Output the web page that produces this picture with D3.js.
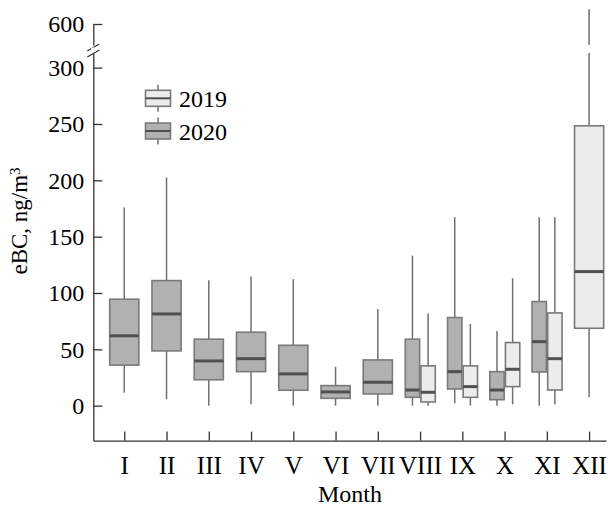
<!DOCTYPE html>
<meta charset="utf-8">
<script src="https://d3js.org/d3.v7.min.js"></script>
<style>
body { margin: 0; background: #fff; }
svg text { font-family: "Liberation Serif", "Times New Roman", serif; fill: #000; }
.axis path, .axis line { stroke: #333; stroke-width: 1.3; fill: none; }
</style>
<body>
<script>

// month labels
var months = ["I", "II", "III", "IV", "V", "VI", "VII", "VIII", "IX", "X", "XI", "XII"];

// [whisker low, q1, median, q3, whisker high] per month, null = no data
var box2020 = [
    [11.5, 36, 62, 94.5, 176],
    [5.7, 48.6, 81.4, 111, 202.5],
    [0, 23, 39.7, 59, 111.4],
    [1.2, 30.2, 41.7, 65.2, 114.6],
    [0, 13.7, 28.2, 53.6, 112.3],
    [0, 6.5, 12.2, 17.8, 34.6],
    [0, 10.4, 20.8, 40.6, 85.9],
    [0, 7.4, 13.9, 59, 133.2],
    [2.1, 14.8, 30.2, 78.2, 167.3],
    [0, 5.3, 13.9, 30.2, 66.3],
    [0, 29.9, 56.8, 92.4, 167.3],
    null
];
var box2019 = [
    null, null, null, null, null, null, null,
    [0, 3.3, 11.9, 35.3, 81.7],
    [0, 7.4, 16.9, 35.3, 72.6],
    [1.2, 16.9, 32.3, 56, 113.1],
    [1.2, 13.9, 41.7, 82.3, 167.3],
    [7.4, 68.7, 119, 248.4, 612]
];

var yTicksLow = [0, 50, 100, 150, 200, 250, 300];
var yTicksHigh = [600];
var breakLow = 313, breakHigh = 583;

var colors = { "2019": "#ececec", "2020": "#b1b1b1" };

var width = 608, height = 510;

var svg = d3.select("body").append("svg")
    .attr("width", width)
    .attr("height", height);

var x = d3.scaleLinear().domain([0.267, 12.4]).range([93.3, 606]);
var y = d3.scaleLinear().domain([-31, breakLow]).range([440.6, 53]);
var yHi = d3.scaleLinear().domain([breakHigh, 600]).range([45, 24]);

var serif = '"Liberation Serif", "Times New Roman", serif';

// axes
svg.append("g")
    .attr("class", "axis")
    .attr("transform", "translate(0," + y(-31) + ")")
    .call(d3.axisBottom(x)
        .tickValues(d3.range(1, 13))
        .tickFormat(function(d) { return months[d - 1]; })
        .tickSizeInner(-9).tickSizeOuter(0).tickPadding(16))
    .attr("font-family", serif)
    .selectAll("text").attr("fill", "#000").style("font-size", "25px");

svg.append("g")
    .attr("class", "axis")
    .attr("transform", "translate(" + x(0.267) + ",0)")
    .call(d3.axisLeft(y).tickValues(yTicksLow)
        .tickSizeInner(-9).tickSizeOuter(0).tickPadding(9))
    .attr("font-family", serif)
    .selectAll("text").attr("fill", "#000").style("font-size", "24px");

svg.append("g")
    .attr("class", "axis")
    .attr("transform", "translate(" + x(0.267) + ",0)")
    .call(d3.axisLeft(yHi).tickValues(yTicksHigh)
        .tickSizeInner(-9).tickSizeOuter(0).tickPadding(9))
    .attr("font-family", serif)
    .selectAll("text").attr("fill", "#000").style("font-size", "24px");

// break marks
var bx = x(0.267);
[0, 6].forEach(function(o) {
    svg.append("line")
        .attr("x1", bx - 6).attr("y1", 51 + o)
        .attr("x2", bx + 6).attr("y2", 44 + o)
        .attr("stroke", "#333").attr("stroke-width", 1.3);
});
svg.append("rect").attr("x", bx - 2).attr("y", 47.5).attr("width", 4).attr("height", 4.5)
    .attr("fill", "#fff");

// boxes
var items = [];
months.forEach(function(m, i) {
    var both = box2019[i] && box2020[i];
    if (box2020[i]) items.push({ m: i + 1, s: box2020[i], year: "2020", off: both ? -0.18 : 0, w: both ? 0.34 : 0.69 });
    if (box2019[i]) items.push({ m: i + 1, s: box2019[i], year: "2019", off: both ? 0.19 : 0, w: both ? 0.34 : 0.69 });
});

var bw = x(1) - x(0);
var g = svg.selectAll(".box").data(items).enter().append("g").attr("class", "box");

g.each(function(d) {
    var el = d3.select(this);
    var cx = x(d.m + d.off);
    var hw = d.w * bw / 2;
    var s = d.s;
    // upper whisker, broken at the axis break
    if (s[4] > breakLow) {
        el.append("line").attr("x1", cx).attr("x2", cx)
            .attr("y1", y(s[3])).attr("y2", y(breakLow))
            .attr("stroke", "#707070").attr("stroke-width", 1.5);
        el.append("line").attr("x1", cx).attr("x2", cx)
            .attr("y1", yHi(breakHigh)).attr("y2", yHi(s[4]))
            .attr("stroke", "#707070").attr("stroke-width", 1.5);
    } else {
        el.append("line").attr("x1", cx).attr("x2", cx)
            .attr("y1", y(s[3])).attr("y2", y(s[4]))
            .attr("stroke", "#707070").attr("stroke-width", 1.5);
    }
    el.append("line").attr("x1", cx).attr("x2", cx)
        .attr("y1", y(s[0])).attr("y2", y(s[1]))
        .attr("stroke", "#707070").attr("stroke-width", 1.5);
    el.append("rect")
        .attr("x", cx - hw).attr("width", 2 * hw)
        .attr("y", y(s[3])).attr("height", y(s[1]) - y(s[3]))
        .attr("fill", colors[d.year])
        .attr("stroke", "#7a7a7a").attr("stroke-width", 1.6);
    el.append("line")
        .attr("x1", cx - hw).attr("x2", cx + hw)
        .attr("y1", y(s[2])).attr("y2", y(s[2]))
        .attr("stroke", "#505050").attr("stroke-width", 3);
});

// legend
var legend = svg.append("g").attr("class", "legend");
[["2019", 98.3], ["2020", 131]].forEach(function(l) {
    var lg = legend.append("g").attr("transform", "translate(158," + l[1] + ")");
    lg.append("line").attr("x1", 0).attr("x2", 0).attr("y1", -13.5).attr("y2", 13.5)
        .attr("stroke", "#707070").attr("stroke-width", 1.5);
    lg.append("rect").attr("x", -12.5).attr("y", -8).attr("width", 25).attr("height", 16)
        .attr("fill", colors[l[0]]).attr("stroke", "#7a7a7a").attr("stroke-width", 1.6);
    lg.append("line").attr("x1", -12.5).attr("x2", 12.5).attr("y1", 0).attr("y2", 0)
        .attr("stroke", "#505050").attr("stroke-width", 2);
    lg.append("text").attr("x", 21).attr("y", 8.5).style("font-size", "24px").text(l[0]);
});

// axis titles
svg.append("text")
    .attr("x", 350).attr("y", 502)
    .attr("text-anchor", "middle")
    .style("font-size", "24px")
    .text("Month");

var yl = svg.append("text")
    .attr("transform", "translate(27,221) rotate(-90)")
    .attr("text-anchor", "middle")
    .style("font-size", "23px");
yl.append("tspan").text("eBC, ng/m");
yl.append("tspan").attr("dy", "-0.45em").style("font-size", "15px").text("3");

</script>
</body>
</html>
